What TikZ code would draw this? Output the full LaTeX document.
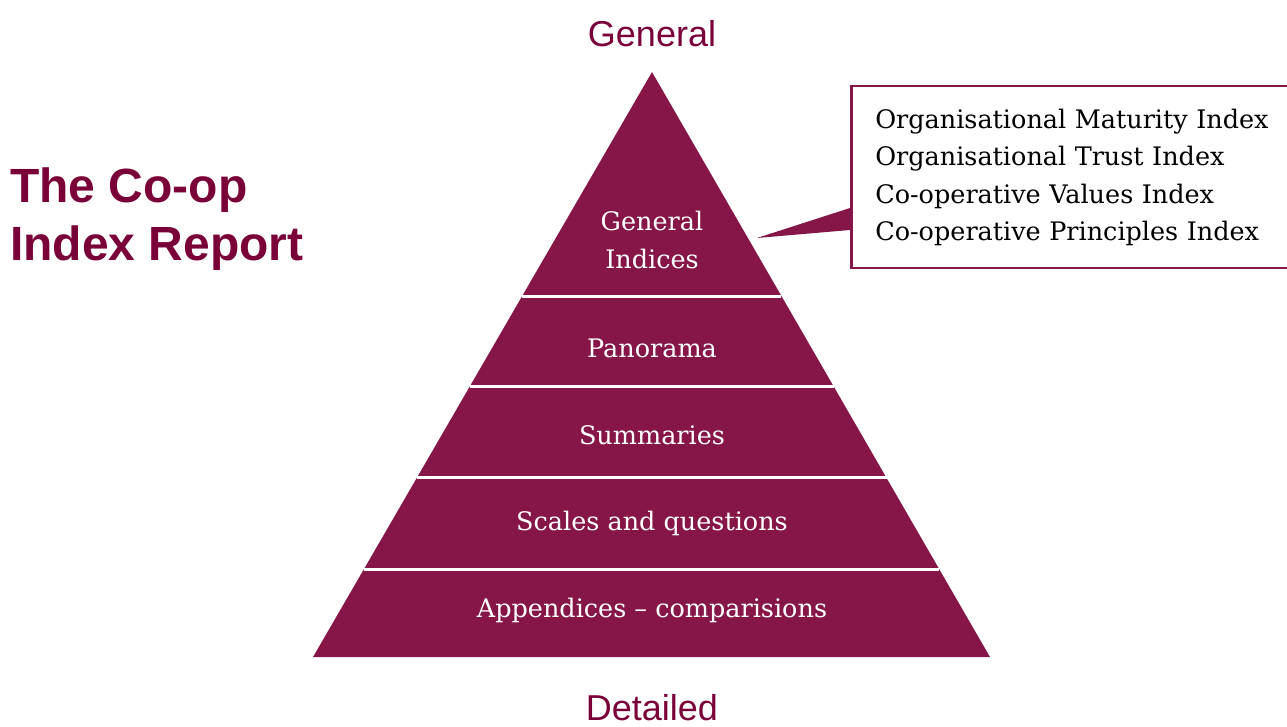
\documentclass[tikz,border=0pt]{standalone}
\usepackage{fontspec}
\setmainfont{DejaVu Serif}
\newfontfamily\headfont{Liberation Sans}
\usetikzlibrary{calc}
\definecolor{coop}{RGB}{134,22,72}
\definecolor{cooptitle}{RGB}{122,0,56}
\tikzset{
  layer/.style={text=white, font=\fontsize{25.5}{37.5}\selectfont, anchor=base},
  heading/.style={text=cooptitle, font=\headfont\fontsize{36}{40}\selectfont, anchor=base},
}
\begin{document}
\begin{tikzpicture}[x=1pt,y=-1pt]
  \useasboundingbox (0,0) rectangle (1287,727);

  \coordinate (apex) at (652,72);
  \coordinate (bl) at (313,657);
  \coordinate (br) at (990,657);
  \fill[coop] (apex) -- (br) -- (bl) -- cycle;
  \foreach \t in {0.383,0.538,0.694,0.850}
    \draw[white, line width=3pt] ($(apex)!\t!(bl)$) -- ($(apex)!\t!(br)$);

  \node[layer, anchor=center, align=center] (gen) at (652,240) {General\\Indices};
  \node[layer] (pan) at (652,357) {Panorama};
  \node[layer] (sum) at (652,444) {Summaries};
  \node[layer] (sca) at (652,530) {Scales and questions};
  \node[layer] (app) at (652,617) {Appendices -- comparisions};

  \node[heading] (top) at (652,47) {General};
  \node[heading] (bottom) at (652,720) {Detailed};

  \node[text=cooptitle, font=\headfont\bfseries\fontsize{48}{58}\selectfont,
        align=left, anchor=north west, inner sep=0pt] (title) at (10,168)
        {The Co-op\\Index Report};

  \node[draw=coop, line width=2.5pt, fill=white, anchor=north west,
        minimum width=480pt, minimum height=182pt, inner xsep=24pt,
        font=\fontsize{25.5}{37.5}\selectfont, align=left, text width=432pt] (box) at (850,85)
        {Organisational Maturity Index\\Organisational Trust Index\\Co-operative Values Index\\Co-operative Principles Index};

  \coordinate (tip) at (757,238);
  \fill[coop] ([yshift=-123pt]box.north west) -- ([yshift=-145pt]box.north west) -- (tip) -- cycle;
\end{tikzpicture}
\end{document}
